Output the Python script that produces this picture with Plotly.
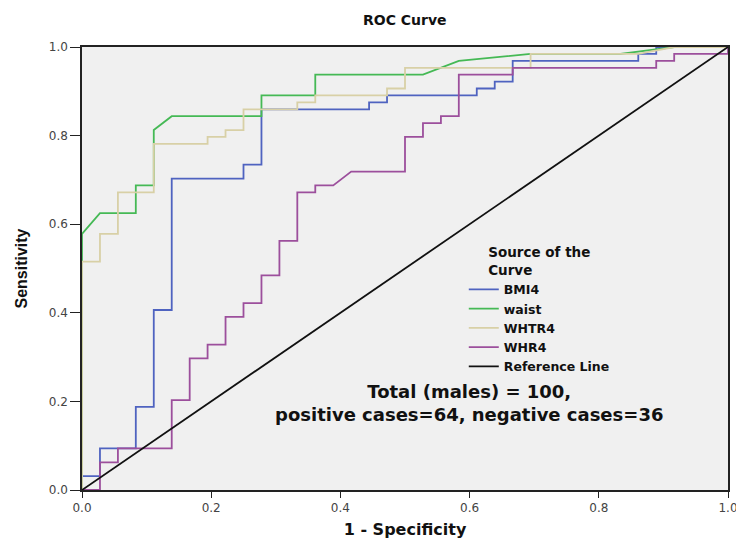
import plotly.graph_objects as go

# ---- data (1 - specificity, sensitivity) ----
bmi4_fpr = [0, 0, 0.0278, 0.0278, 0.0833, 0.0833, 0.1111, 0.1111, 0.1389, 0.1389, 0.25, 0.25,
            0.2778, 0.2778, 0.4444, 0.4444, 0.4722, 0.4722, 0.6111, 0.6111, 0.6389, 0.6389,
            0.6667, 0.6667, 0.8611, 0.8611, 0.8889, 0.8889, 1]
bmi4_tpr = [0, 0.0313, 0.0313, 0.0938, 0.0938, 0.1875, 0.1875, 0.4063, 0.4063, 0.7031, 0.7031, 0.7344,
            0.7344, 0.8594, 0.8594, 0.875, 0.875, 0.8906, 0.8906, 0.9063, 0.9063, 0.9219,
            0.9219, 0.9688, 0.9688, 0.9844, 0.9844, 1, 1]

waist_fpr = [0, 0, 0.0278, 0.0833, 0.0833, 0.1111, 0.1111, 0.1389, 0.2778, 0.2778, 0.3611, 0.3611,
             0.5278, 0.5833, 0.6944, 0.8333, 0.9167, 1]
waist_tpr = [0, 0.5781, 0.625, 0.625, 0.6875, 0.6875, 0.8125, 0.8438, 0.8438, 0.8906, 0.8906, 0.9375,
             0.9375, 0.9688, 0.9844, 0.9844, 1, 1]

whtr4_fpr = [0, 0, 0.0278, 0.0278, 0.0556, 0.0556, 0.1111, 0.1111, 0.1944, 0.1944, 0.2222, 0.2222,
             0.25, 0.25, 0.3333, 0.3333, 0.3611, 0.3611, 0.4722, 0.4722, 0.5, 0.5, 0.6944, 0.6944,
             0.8611, 0.9167, 1]
whtr4_tpr = [0, 0.5156, 0.5156, 0.5781, 0.5781, 0.6719, 0.6719, 0.7813, 0.7813, 0.7969, 0.7969, 0.8125,
             0.8125, 0.8594, 0.8594, 0.875, 0.875, 0.8906, 0.8906, 0.9063, 0.9063, 0.9531, 0.9531, 0.9844,
             0.9844, 1, 1]

whr4_fpr = [0, 0.0278, 0.0278, 0.0556, 0.0556, 0.1389, 0.1389, 0.1667, 0.1667, 0.1944, 0.1944, 0.2222,
            0.2222, 0.25, 0.25, 0.2778, 0.2778, 0.3056, 0.3056, 0.3333, 0.3333, 0.3611, 0.3611, 0.3889,
            0.4167, 0.5, 0.5, 0.5278, 0.5278, 0.5556, 0.5556, 0.5833, 0.5833, 0.6667, 0.6667, 0.8889,
            0.8889, 0.9167, 0.9167, 1, 1]
whr4_tpr = [0, 0, 0.0625, 0.0625, 0.0938, 0.0938, 0.2031, 0.2031, 0.2969, 0.2969, 0.3281, 0.3281,
            0.3906, 0.3906, 0.4219, 0.4219, 0.4844, 0.4844, 0.5625, 0.5625, 0.6719, 0.6719, 0.6875, 0.6875,
            0.7188, 0.7188, 0.7969, 0.7969, 0.8281, 0.8281, 0.8438, 0.8438, 0.9375, 0.9375, 0.9531, 0.9531,
            0.9688, 0.9688, 0.9844, 0.9844, 1]

ref_x = [0, 1]
ref_y = [0, 1]

series_names = ["BMI4", "waist", "WHTR4", "WHR4", "Reference Line"]
series_colors = ["#4f63c0", "#45b955", "#d8d0a6", "#9c4f9c", "#111111"]
tick_vals = [0, 0.2, 0.4, 0.6, 0.8, 1.0]
tick_text = ["0.0", "0.2", "0.4", "0.6", "0.8", "1.0"]

BOLD = "DejaVu Sans"

fig = go.Figure()
xs = [bmi4_fpr, waist_fpr, whtr4_fpr, whr4_fpr, ref_x]
ys = [bmi4_tpr, waist_tpr, whtr4_tpr, whr4_tpr, ref_y]
for name, color, x, y in zip(series_names, series_colors, xs, ys):
    fig.add_trace(go.Scatter(x=x, y=y, mode="lines", name=name,
                             line=dict(color=color, width=1.8), hoverinfo="skip"))

fig.update_layout(
    width=736, height=539, autosize=False,
    margin=dict(l=82, r=8, t=47, b=49, autoexpand=False),
    paper_bgcolor="white", plot_bgcolor="#f0f0f0",
    title=dict(text="<b>ROC Curve</b>", x=0.55, xanchor="center", y=0.963, yanchor="middle",
               font=dict(family=BOLD, size=14, color="#111")),
    xaxis=dict(range=[0, 1], tickvals=tick_vals, ticktext=tick_text, showgrid=False, zeroline=False,
               showline=True, linecolor="#222", linewidth=1.5, mirror=True, automargin=False,
               ticks="outside", ticklen=6, tickcolor="#222", ticklabeloverflow="allow",
               tickfont=dict(family="DejaVu Sans", size=12, color="#444"),
               title=dict(text="<b>1 - Specificity</b>", standoff=10,
                          font=dict(family=BOLD, size=16, color="#111"))),
    yaxis=dict(range=[0, 1], tickvals=tick_vals, ticktext=tick_text, showgrid=False, zeroline=False,
               showline=True, linecolor="#222", linewidth=1.5, mirror=True, automargin=False,
               ticks="outside", ticklen=10, tickcolor="#222",
               tickfont=dict(family="DejaVu Sans", size=12, color="#444"),
               title=dict(text="<b>Sensitivity</b>", standoff=17,
                          font=dict(family="Liberation Sans", size=16, color="#111"))),
    legend=dict(x=0.591, y=0.565, xanchor="left", yanchor="top", bgcolor="rgba(0,0,0,0)",
                font=dict(family=BOLD, size=12.5, color="#111", weight="bold"),
                title=dict(text="<b>Source of the<br>Curve</b>", side="top center",
                           font=dict(family=BOLD, size=13.5, color="#111")),
                itemclick=False),
    showlegend=True,
)

fig.add_annotation(text="<b>Total (males) = 100,<br>positive cases=64, negative cases=36</b>",
                   xref="paper", yref="paper", x=0.599, y=0.197, xanchor="center", yanchor="middle",
                   showarrow=False, align="center",
                   font=dict(family=BOLD, size=18, color="#111"))

fig.write_html("out.html", config={"displayModeBar": False},
               post_script="document.body.style.margin='0';")
